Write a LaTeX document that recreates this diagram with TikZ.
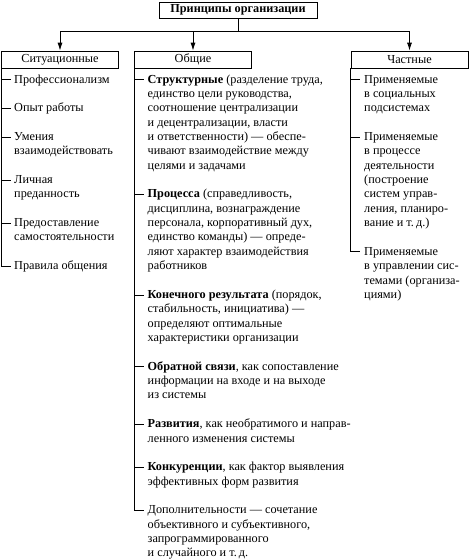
\documentclass[tikz,border=0pt]{standalone}
\usepackage{fontspec}
\setmainfont{Liberation Serif}
\newfontfamily\rufont{Liberation Serif}
\usetikzlibrary{arrows.meta,calc}
\newcommand\txtfont{\rufont\fontsize{12.25}{14.36}\selectfont}
\begin{document}
\begin{tikzpicture}[x=1pt,y=-1pt,
  box/.style={draw, line width=0.8pt, minimum width=117pt, minimum height=17pt, inner sep=0pt, font=\txtfont},
  item/.style={anchor=north west, inner sep=0pt, align=left, font=\txtfont},
  link/.style={line width=0.8pt},
  arr/.style={link, -{Latex[length=8pt,width=5pt]}},
  tick/.style={link}]
\useasboundingbox (0,0) rectangle (470,560);

% header
\node[box, minimum width=158pt, minimum height=16pt, font=\txtfont\bfseries] (top) at (238,10) {Принципы организации};

% category boxes
\node[box] (sit) at (60,59.5) {Ситуационные};
\node[box] (gen) at (193,59.5) {Общие};
\node[box] (part) at (409.5,59.5) {Частные};

% connectors
\coordinate (j) at (238,31);
\draw[link] (top.south) -- (j);
\draw[link] (sit.north |- j) -- (part.north |- j);
\draw[arr] (sit.north |- j) -- (sit.north);
\draw[arr] (gen.north |- j) -- (gen.north);
\draw[arr] (part.north |- j) -- (part.north);

% left column
\node[item] (s1) at (14,{72.75+14.36*0}) {\strut Профессионализм};
\node[item] (s2) at (14,{72.75+14.36*2}) {\strut Опыт работы};
\node[item] (s3) at (14,{72.75+14.36*4}) {\strut Умения\\взаимодействовать};
\node[item] (s4) at (14,{72.75+14.36*7}) {\strut Личная\\преданность};
\node[item] (s5) at (14,{72.75+14.36*10}) {\strut Предоставление\\самостоятельности};
\node[item] (s6) at (14,{72.75+14.36*13}) {\strut Правила общения};
\foreach \n in {s1,s2,s3,s4,s5}
  \draw[tick] ($(\n.north west)+(-12.5,6.75)$) -- ++(9,0);
\draw[link] (sit.south west) |- ($(s6.north west)+(-3.5,6.75)$);

% middle column
\node[item] (g1) at (147.5,{72.75+14.36*0}) {\strut\textbf{Структурные} (разделение труда,\\единство цели руководства,\\соотношение централизации\\и децентрализации, власти\\и ответственности) — обеспе-\\чивают взаимодействие между\\целями и задачами};
\node[item] (g2) at (147.5,{72.75+14.36*8}) {\strut\textbf{Процесса} (справедливость,\\дисциплина, вознаграждение\\персонала, корпоративный дух,\\единство команды) — опреде-\\ляют характер взаимодействия\\работников};
\node[item] (g3) at (147.5,{72.75+14.36*15}) {\strut\textbf{Конечного результата} (порядок,\\стабильность, инициатива) —\\определяют оптимальные\\характеристики организации};
\node[item] (g4) at (147.5,{72.75+14.36*20}) {\strut\textbf{Обратной связи}, как сопоставление\\информации на входе и на выходе\\из системы};
\node[item] (g5) at (147.5,{72.75+14.36*24}) {\strut\textbf{Развития}, как необратимого и направ-\\ленного изменения системы};
\node[item] (g6) at (147.5,{72.75+14.36*27}) {\strut\textbf{Конкуренции}, как фактор выявления\\эффективных форм развития};
\node[item] (g7) at (147.5,{72.75+14.36*30}) {\strut Дополнительности — сочетание\\объективного и субъективного,\\запрограммированного\\и случайного и т.\,д.};
\foreach \n in {g1,g2,g3,g4,g5,g6}
  \draw[tick] ($(\n.north west)+(-13,6.75)$) -- ++(9,0);
\draw[link] (gen.south west) |- ($(g7.north west)+(-4,6.75)$);

% right column
\node[item] (p1) at (364,{72.75+14.36*0}) {\strut Применяемые\\в социальных\\подсистемах};
\node[item] (p2) at (364,{72.75+14.36*4}) {\strut Применяемые\\в процессе\\деятельности\\(построение\\систем управ-\\ления, планиро-\\вание и т.\,д.)};
\node[item] (p3) at (364,{72.75+14.36*12}) {\strut Применяемые\\в управлении сис-\\темами (организа-\\циями)};
\foreach \n in {p1,p2}
  \draw[tick] ($(\n.north west)+(-13,6.75)$) -- ++(9,0);
\draw[link] (part.south west) |- ($(p3.north west)+(-4,6.75)$);
\end{tikzpicture}
\end{document}
